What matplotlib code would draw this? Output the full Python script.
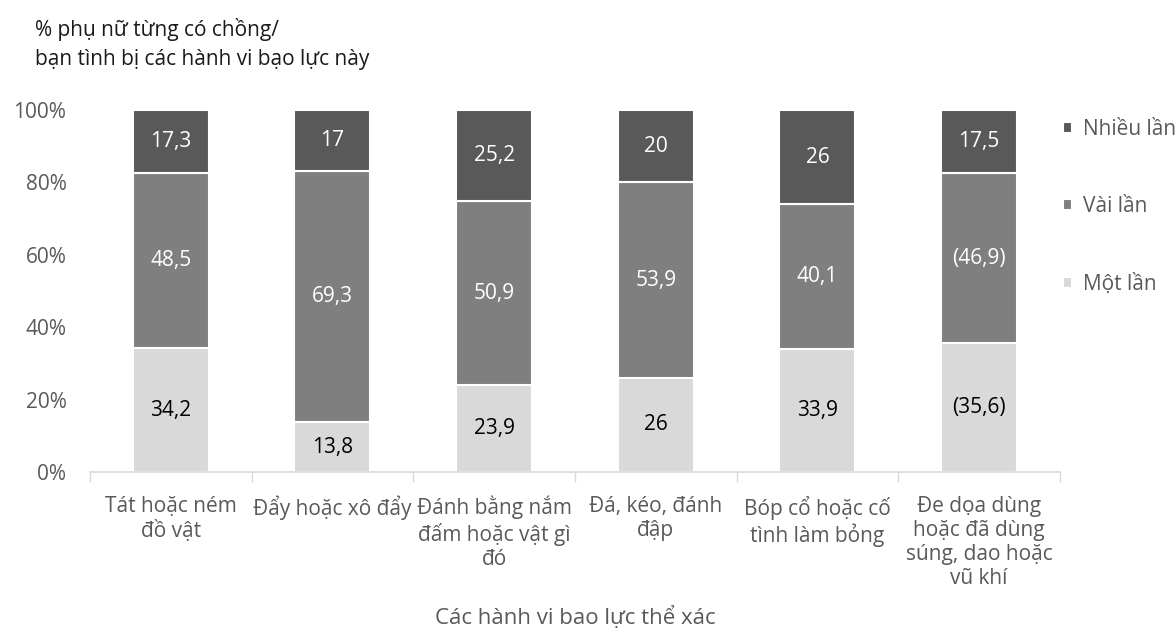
import numpy as np
import matplotlib.pyplot as plt

plt.rcParams['font.family'] = ['Open Sans', 'DejaVu Sans']

categories = ["Tát hoặc ném\nđồ vật", "Đẩy hoặc xô đẩy", "Đánh bằng nắm\nđấm hoặc vật gì\nđó",
              "Đá, kéo, đánh\nđập", "Bóp cổ hoặc cố\ntình làm bỏng",
              "Đe dọa dùng\nhoặc đã dùng\nsúng, dao hoặc\nvũ khí"]
mot_lan = [34.2, 13.8, 23.9, 26, 33.9, 35.6]
vai_lan = [48.5, 69.3, 50.9, 53.9, 40.1, 46.9]
nhieu_lan = [17.3, 17, 25.2, 20, 26, 17.5]
mot_lab = ["34,2", "13,8", "23,9", "26", "33,9", "(35,6)"]
vai_lab = ["48,5", "69,3", "50,9", "53,9", "40,1", "(46,9)"]
nhieu_lab = ["17,3", "17", "25,2", "20", "26", "17,5"]

series = [("Một lần", mot_lan, mot_lab, "#d9d9d9", "black"),
          ("Vài lần", vai_lan, vai_lab, "#7f7f7f", "white"),
          ("Nhiều lần", nhieu_lan, nhieu_lab, "#595959", "white")]

fig = plt.figure(figsize=(11.75, 6.35), dpi=100)
ax = fig.add_axes([0.0766, 0.2567, 0.8254, 0.5701])

x = np.arange(len(categories))
total = np.array(mot_lan) + np.array(vai_lan) + np.array(nhieu_lan)
bottom = np.zeros(len(categories))
handles = []
for name, vals, labs, col, tcol in series:
    v = np.array(vals) / total * 100
    b = ax.bar(x, v, 0.47, bottom=bottom, color=col, edgecolor="white", linewidth=1.5, label=name)
    handles.append(b)
    for xi, yi, bi, t in zip(x, v, bottom, labs):
        ax.text(xi, bi + yi / 2, t, ha="center", va="center", color=tcol, fontsize=15)
    bottom += v

ax.set_xlim(-0.5, 5.5)
ax.set_ylim(0, 100)
ax.set_yticks(np.arange(0, 101, 20))
ax.set_yticklabels([f"{v}%" for v in range(0, 101, 20)], fontsize=15, color="#595959")
ax.tick_params(axis="y", length=0, pad=17)
ax.set_xticks(x)
ax.set_xticklabels(categories, fontsize=15, color="#595959", linespacing=1.2, va="top")
ax.tick_params(axis="x", length=0, pad=17)
ax.set_xticks(np.arange(-0.5, 6, 1), minor=True)
ax.tick_params(axis="x", which="minor", length=7, color="#d9d9d9", width=1)
for s in ["top", "right", "left"]:
    ax.spines[s].set_visible(False)
ax.spines["bottom"].set_color("#d9d9d9")
ax.spines["bottom"].set_linewidth(1.2)

ax.set_xlabel("Các hành vi bao lực thể xác", fontsize=16, color="#595959", labelpad=12)
fig.text(0.03, 0.972, "% phụ nữ từng có chồng/\nbạn tình bị các hành vi bạo lực này",
         fontsize=15, color="#1a1a1a", va="top", linespacing=1.5)

leg = ax.legend(handles[::-1], [s[0] for s in series][::-1], loc="upper left",
                bbox_to_anchor=(1.003, 0.975), frameon=False, fontsize=15,
                borderaxespad=0, borderpad=0,
                handlelength=0.45, handleheight=0.45, handletextpad=0.5,
                labelspacing=2.7, labelcolor="#595959")

fig.savefig("out.png", dpi=100)
